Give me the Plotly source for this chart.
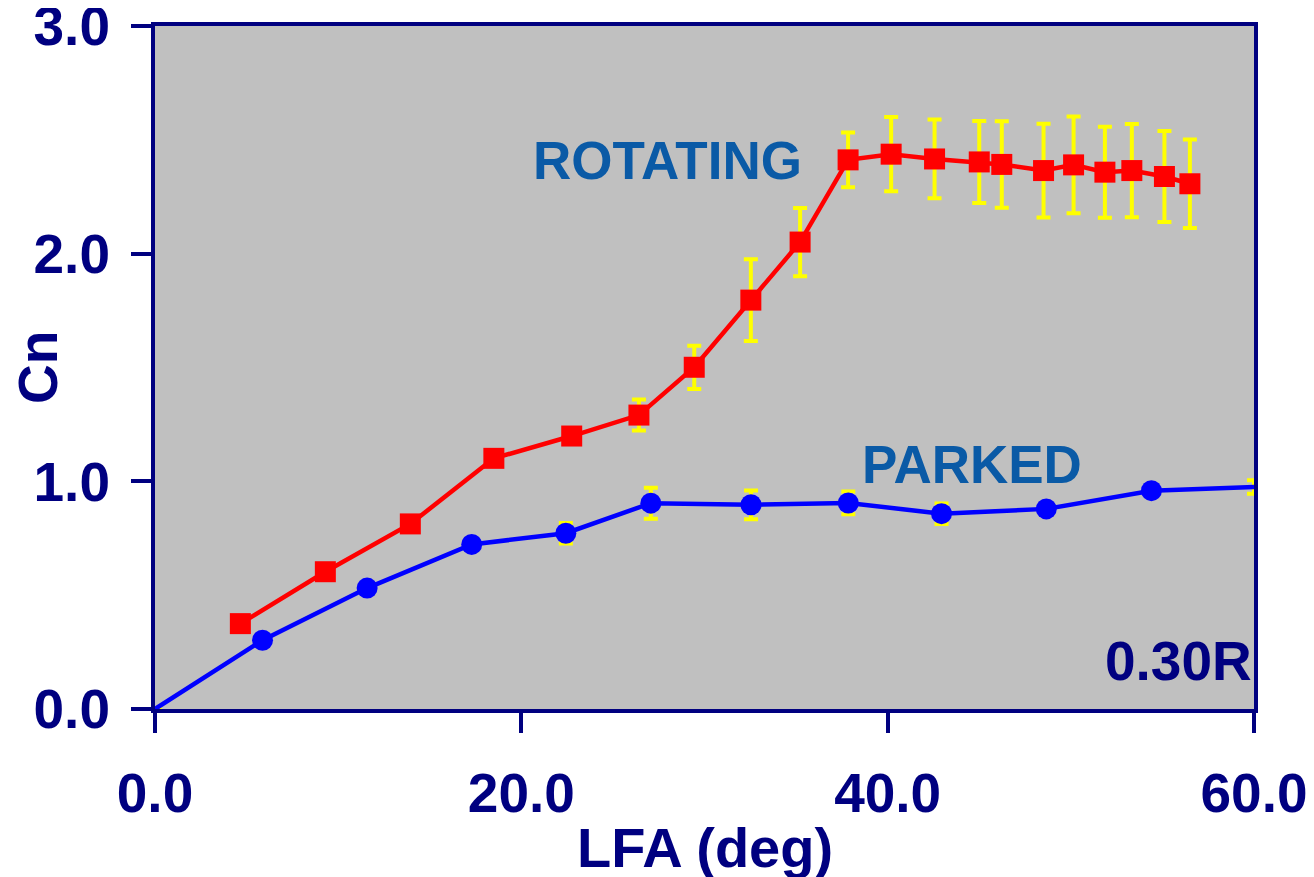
import plotly.graph_objects as go

# ROTATING series
rot_x = [4.66, 9.30, 13.94, 18.5, 22.75, 26.42, 29.44, 32.53, 35.22, 37.84,
         40.19, 42.56, 45.0, 46.23, 48.51, 50.15, 51.86, 53.33, 55.11, 56.5]
rot_y = [0.375, 0.603, 0.813, 1.101, 1.199, 1.291, 1.501, 1.796, 2.051, 2.412,
         2.437, 2.416, 2.403, 2.392, 2.365, 2.390, 2.358, 2.365, 2.339, 2.307]
rot_err = [0, 0, 0, 0, 0, 0.068, 0.095, 0.18, 0.15, 0.12,
           0.163, 0.173, 0.18, 0.19, 0.206, 0.212, 0.20, 0.205, 0.20, 0.194]

# PARKED series
park_x = [0, 5.87, 11.58, 17.29, 22.43, 27.07, 32.54, 37.85, 42.94, 48.66, 54.4, 60.0]
park_y = [0, 0.302, 0.531, 0.723, 0.772, 0.904, 0.897, 0.905, 0.858, 0.879, 0.959, 0.975]
park_err = [0, 0, 0, 0, 0.045, 0.068, 0.063, 0.05, 0.045, 0.025, 0.02, 0.03]
park_marker = [0, 21, 21, 21, 21, 21, 21, 21, 21, 21, 21, 0]

x_ticks = [0, 20, 40, 60]
y_ticks = [0, 1, 2, 3]

NAVY = "#000080"
LABEL_BLUE = "#0A5AA6"
FONT = "Liberation Sans, Arial, sans-serif"

fig = go.Figure()

fig.add_trace(go.Scatter(
    x=park_x, y=park_y, mode="lines+markers",
    line=dict(color="#0000FF", width=4.5),
    marker=dict(color="#0000FF", size=park_marker, symbol="circle", opacity=1,
                line=dict(width=0)),
    error_y=dict(type="data", array=park_err, color="#FFFF00", thickness=4, width=7),
    cliponaxis=False, showlegend=False,
))

fig.add_trace(go.Scatter(
    x=rot_x, y=rot_y, mode="lines+markers",
    line=dict(color="#FF0000", width=4.5),
    marker=dict(color="#FF0000", size=21, symbol="square", opacity=1,
                line=dict(width=0)),
    error_y=dict(type="data", array=rot_err, color="#FFFF00", thickness=4, width=7),
    showlegend=False,
))

axis_common = dict(
    showline=True, linecolor=NAVY, linewidth=4, mirror=True,
    ticks="outside", ticklen=20, tickwidth=4, tickcolor=NAVY,
    showgrid=False, zeroline=False,
    tickformat=".1f", ticklabeloverflow="allow",
    tickfont=dict(family=FONT, size=55, color=NAVY, weight="bold"),
)

fig.update_xaxes(range=[0, 60], tickvals=x_ticks, ticklabelstandoff=13, **axis_common)
fig.update_yaxes(range=[0, 3], tickvals=y_ticks, ticklabelstandoff=10, **axis_common)

fig.add_annotation(x=28.0, y=2.41, xref="x", yref="y", text="ROTATING", showarrow=False,
                   xanchor="center", yanchor="middle",
                   font=dict(family=FONT, size=53, color=LABEL_BLUE, weight="bold"))
fig.add_annotation(x=44.6, y=1.072, xref="x", yref="y", text="PARKED", showarrow=False,
                   xanchor="center", yanchor="middle",
                   font=dict(family=FONT, size=53, color=LABEL_BLUE, weight="bold"))
fig.add_annotation(x=60.0, y=0.211, xref="x", yref="y", text="0.30R", showarrow=False,
                   xanchor="right", yanchor="middle",
                   font=dict(family=FONT, size=55, color=NAVY, weight="bold"))
fig.add_annotation(x=0.5, y=-0.203, xref="paper", yref="paper", text="LFA (deg)", showarrow=False,
                   xanchor="center", yanchor="middle",
                   font=dict(family=FONT, size=56, color=NAVY, weight="bold"))
fig.add_annotation(x=-0.107, y=0.5, xref="paper", yref="paper", text="Cn", showarrow=False,
                   textangle=-90, xanchor="center", yanchor="middle",
                   font=dict(family=FONT, size=55, color=NAVY, weight="bold"))

fig.update_layout(
    width=1306, height=869,
    margin=dict(l=147, r=60, t=18, b=168, autoexpand=False),
    plot_bgcolor="#C0C0C0", paper_bgcolor="#FFFFFF",
)

fig.write_html("out.html")
